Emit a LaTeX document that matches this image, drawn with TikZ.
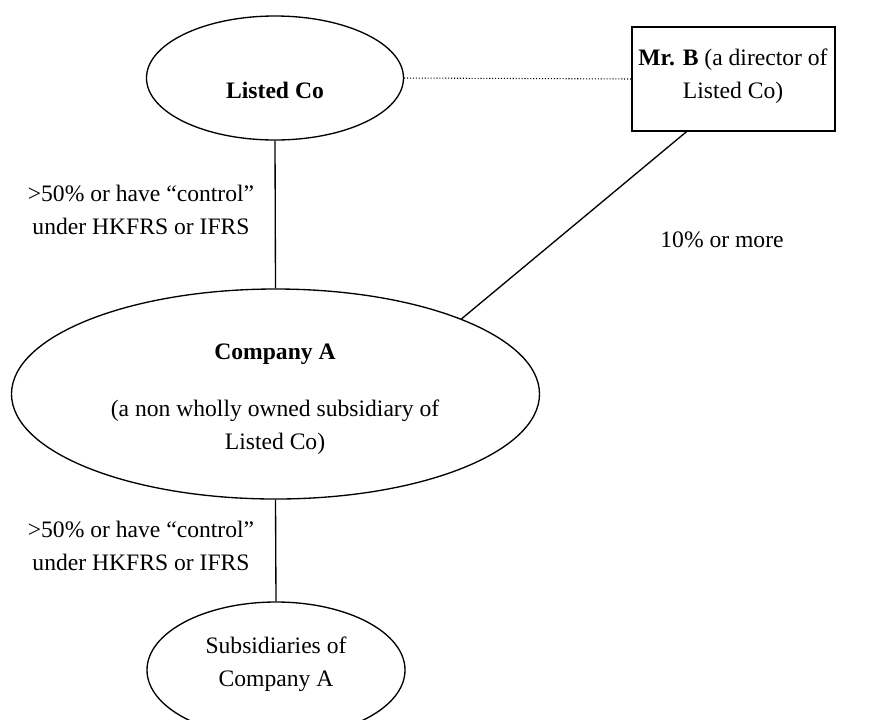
\documentclass[tikz,border=0pt]{standalone}
\usepackage{fontspec}
\setmainfont{Liberation Serif}
\usetikzlibrary{shapes.geometric,calc}
\begin{document}
\begin{tikzpicture}[x=0.75pt,y=-0.75pt,
  every node/.style={font=\fontsize{17.7}{24.5}\selectfont},
  oval/.style={draw,ellipse,line width=1pt,inner sep=0pt},
  box/.style={draw,rectangle,line width=1pt,inner sep=0pt},
  txt/.style={align=center,inner sep=0pt},
  link/.style={line width=1pt}]
\useasboundingbox (0,0) rectangle (889,719);
\clip (0,0) rectangle (889,719);

% entities
\node[oval,minimum width=192.75pt,minimum height=93pt] (listed) at (275,78) {};
\node[box,minimum width=152.25pt,minimum height=78pt] (mrb) at (733.5,79) {};
\node[oval,minimum width=396pt,minimum height=157.5pt] (compa) at (275.5,394) {};
\node[oval,minimum width=193.5pt,minimum height=102pt] (subs) at (276,670) {};

% texts
\node[txt,font=\fontsize{17.7}{24.5}\selectfont\bfseries] (tlisted) at (275,90) {Listed Co};
\node[txt] (tmrb) at (733,76) {\textbf{Mr. B} (a director of\\Listed Co)};
\node[txt,font=\fontsize{17.7}{24.5}\selectfont\bfseries] (tcompa) at (275,354) {Company A};
\node[txt] (tcompasub) at (275,427) {(a non wholly owned subsidiary of\\Listed Co)};
\node[txt] (tsubs) at (276,664) {Subsidiaries of\\Company A};

% ownership labels
\node[txt] (lab1) at (141,210) {>50\% or have “control”\\under HKFRS or IFRS};
\node[txt] (lab2) at (141,546) {>50\% or have “control”\\under HKFRS or IFRS};
\node[txt] (lab3) at (722,240) {10\% or more};

% connectors
\draw[line width=0.8pt,dash pattern=on 0.8pt off 1.4pt] (listed.east) -- (mrb.west);
\draw[link] (listed.south) -- (compa.north);
\draw[link] (compa.south) -- (subs.north);
\coordinate (mrbfoot) at ($(mrb.south west)!0.27!(mrb.south east)$);
\draw[link] (mrbfoot) -- (compa.22.4);
\end{tikzpicture}
\end{document}
